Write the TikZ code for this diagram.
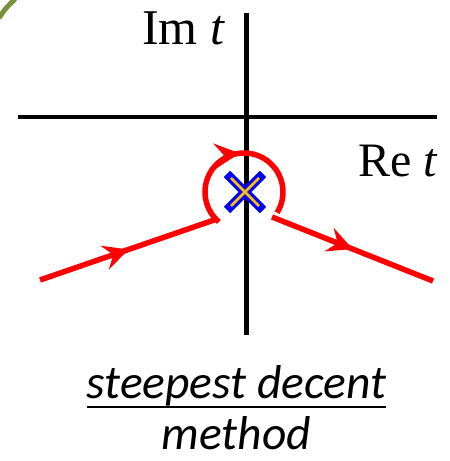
\documentclass[tikz,border=0pt]{standalone}
\usepackage{fontspec}
\setmainfont{Liberation Serif}
\newfontfamily\calib{Carlito}
\usetikzlibrary{arrows.meta,decorations.markings}
\definecolor{olivegreen}{RGB}{119,147,60}
\definecolor{crossorange}{RGB}{255,192,0}
\begin{document}
\begin{tikzpicture}[x=1pt,y=1pt,
  axis/.style={line width=4.5pt, black},
  contour/.style={line width=5.5pt, red},
  midarrow/.style={postaction={decorate},decoration={markings, mark=at position #1 with {\arrow[red]{Stealth[length=25pt,width=25pt,inset=9pt]}}}},
  crossout/.style={line width=9pt, blue},
  crossin/.style={line width=2.5pt, crossorange},
  lab/.style={inner sep=0pt, font=\fontsize{50}{50}\selectfont},
  captext/.style={inner sep=0pt, font=\calib\itshape\fontsize{47.5}{47.5}\selectfont},
]
\useasboundingbox (0,0) rectangle (450,461);
% green arc in corner
\draw[line width=5pt, olivegreen] (-1,443) .. controls (5,452) .. (15,462);
% axes
\coordinate (hL) at (18,344);
\coordinate (hR) at (437,344);
\coordinate (vT) at (246.5,448);
\coordinate (vB) at (246.5,126);
\draw[axis] (hL) -- (hR);
\draw[axis] (vT) -- (vB);
% contour
\coordinate (aS) at (40,181);
\coordinate (aE) at (217,242);
\coordinate (cC) at (244,269);
\coordinate (bS) at (272,244);
\coordinate (bE) at (433,180);
\draw[contour, midarrow=0.5] (aS) -- (aE);
\draw[contour, midarrow=0.51] ([shift={(230:39)}]cC) arc[start angle=230, end angle=-32, radius=39];
\draw[contour, midarrow=0.5] (bS) -- (bE);
% cross
\coordinate (x) at (245,269);
\draw[crossout] ([shift={(-18,-18)}]x) -- ([shift={(18,18)}]x);
\draw[crossout] ([shift={(-18,18)}]x) -- ([shift={(18,-18)}]x);
\draw[crossin] ([shift={(-14,-14)}]x) -- ([shift={(14,14)}]x);
\draw[crossin] ([shift={(-14,14)}]x) -- ([shift={(14,-14)}]x);
% labels
\node[lab, anchor=base west] (im) at (142,416) {Im \textit{t}};
\node[lab, anchor=base west, font=\fontsize{48}{48}\selectfont] (re) at (358,284) {Re \textit{t}};
\node[captext, anchor=base] (sd) at (236.5,62) {steepest decent};
\node[captext, anchor=base] (me) at (236.5,12) {method};
\draw[line width=2.5pt] ([yshift=-8pt]sd.base west) -- ([yshift=-8pt]sd.base east);
\end{tikzpicture}
\end{document}
